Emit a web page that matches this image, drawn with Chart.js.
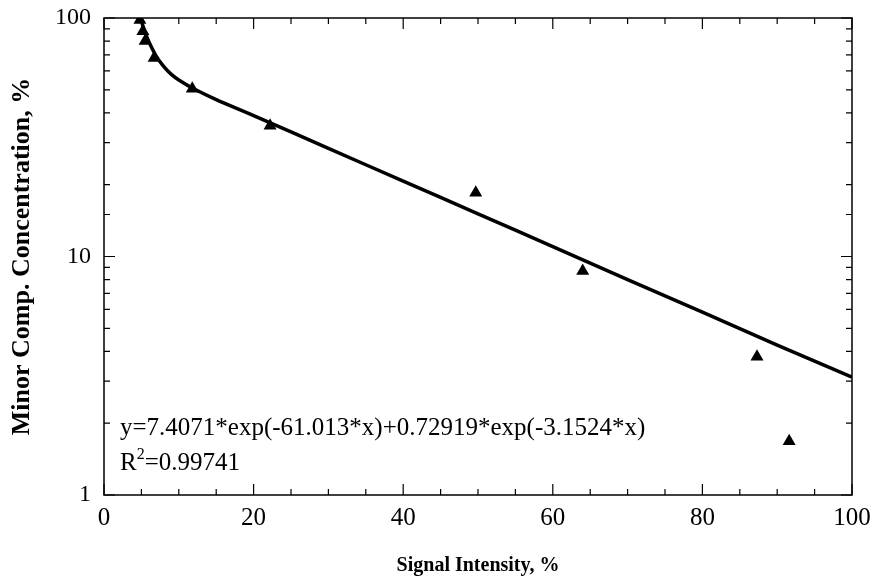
<!DOCTYPE html>
<html>
<head>
<meta charset="utf-8">
<script src="https://cdn.jsdelivr.net/npm/chart.js@4.4.1/dist/chart.umd.min.js"></script>
<style>
  html, body { margin: 0; padding: 0; background: #fff; }
  #wrap { width: 876px; height: 586px; }
</style>
</head>
<body>
<div id="wrap"><canvas id="chart1"></canvas></div>
<script>
// measured points (signal %, concentration %)
var pointX = [4.8, 5.2, 5.5, 6.7, 11.8, 22.2, 49.7, 64.0, 87.3, 91.6];
var pointY = [98, 88, 80, 68, 50.5, 35.3, 18.5, 8.7, 3.8, 1.68];

// fitted curve
var fitX = [5, 5.5, 6, 7, 8, 9, 10, 12, 15, 20, 30, 40, 50, 60, 70, 80, 90, 100];
var fitY = [97, 87, 79.5, 69, 62.5, 58, 55, 50.5, 45.5, 39, 28.4, 20.7, 15.1, 11.0, 8.0, 5.85, 4.25, 3.12];

var yLabels = [1, 10, 100];
var xLabels = [0, 20, 40, 60, 80, 100];

var eqText = 'y=7.4071*exp(-61.013*x)+0.72919*exp(-3.1524*x)';
var r2Text = '0.99741';

var serif = "'Liberation Serif', 'Times New Roman', serif";

function toXY(xs, ys) {
  return xs.map(function(x, i) { return { x: x, y: ys[i] }; });
}

// frame + inward ticks on all four sides, plus the equation text
var framePlugin = {
  id: 'frame',
  afterDraw: function(chart) {
    var ctx = chart.ctx, a = chart.chartArea;
    var xs = chart.scales.x, ys = chart.scales.y;
    ctx.save();
    ctx.strokeStyle = '#000';
    ctx.lineWidth = 1.5;
    ctx.strokeRect(a.left, a.top, a.right - a.left, a.bottom - a.top);
    ctx.lineWidth = 1.2;
    ctx.beginPath();
    xs.ticks.forEach(function(t) {
      var px = xs.getPixelForValue(t.value);
      var len = (t.value % 20 === 0) ? 11 : 6;
      ctx.moveTo(px, a.bottom); ctx.lineTo(px, a.bottom - len);
      ctx.moveTo(px, a.top); ctx.lineTo(px, a.top + len);
    });
    ys.ticks.forEach(function(t) {
      var py = ys.getPixelForValue(t.value);
      var major = yLabels.indexOf(t.value) >= 0;
      var len = major ? 11 : 6;
      ctx.moveTo(a.left, py); ctx.lineTo(a.left + len, py);
      ctx.moveTo(a.right, py); ctx.lineTo(a.right - len, py);
    });
    ctx.stroke();

    ctx.fillStyle = '#000';
    ctx.textBaseline = 'alphabetic';
    ctx.textAlign = 'left';
    ctx.font = '25px ' + serif;
    var tx = a.left + 16;
    ctx.fillText(eqText, tx, 435);
    ctx.fillText('R', tx, 470);
    var w = ctx.measureText('R').width;
    ctx.font = '16px ' + serif;
    ctx.fillText('2', tx + w, 459);
    var w2 = ctx.measureText('2').width;
    ctx.font = '25px ' + serif;
    ctx.fillText('=' + r2Text, tx + w + w2, 470);
    ctx.restore();
  }
};

var ctx = document.getElementById('chart1').getContext('2d');
var myChart = new Chart(ctx, {
  type: 'scatter',
  data: {
    datasets: [{
      label: 'fit',
      data: toXY(fitX, fitY),
      showLine: true,
      borderColor: '#000',
      borderWidth: 3.5,
      pointRadius: 0,
      tension: 0.3,
      fill: false
    },
    {
      label: 'data',
      data: toXY(pointX, pointY),
      pointStyle: 'triangle',
      pointRadius: 7.5,
      backgroundColor: '#000',
      borderColor: '#000',
      borderWidth: 0
    }]
  },
  options: {
    responsive: true,
    maintainAspectRatio: false,
    animation: false,
    layout: { padding: { top: 18, right: 24, left: 0, bottom: 0 } },
    plugins: {
      legend: { display: false },
      tooltip: { enabled: false }
    },
    scales: {
      x: {
        type: 'linear',
        min: 0,
        max: 100,
        grid: { display: false, drawTicks: false },
        border: { display: false },
        ticks: {
          stepSize: 5,
          autoSkip: false,
          maxRotation: 0,
          padding: 8,
          color: '#000',
          font: { family: serif, size: 25 },
          callback: function(v) { return xLabels.indexOf(v) >= 0 ? String(v) : ''; }
        },
        title: {
          display: true,
          text: 'Signal Intensity, %',
          color: '#000',
          font: { family: serif, size: 20, weight: 'bold' },
          padding: { top: 0, bottom: 8 }
        },
        afterFit: function(s) {
          s.height = 91;
          s.paddingLeft = 0;
          s.paddingRight = 0;
        }
      },
      y: {
        type: 'logarithmic',
        min: 1,
        max: 100,
        grid: { display: false, drawTicks: false },
        border: { display: false },
        ticks: {
          autoSkip: false,
          padding: 13,
          color: '#000',
          font: { family: serif, size: 24 },
          callback: function(v) { return yLabels.indexOf(v) >= 0 ? String(v) : ''; }
        },
        title: {
          display: true,
          text: 'Minor Comp. Concentration, %',
          color: '#000',
          font: { family: serif, size: 26, weight: 'bold' },
          padding: { top: 7, bottom: 0 }
        },
        afterFit: function(s) {
          s.width = 104;
          s.paddingTop = 0;
          s.paddingBottom = 0;
        }
      }
    }
  },
  plugins: [framePlugin]
});
</script>
</body>
</html>
